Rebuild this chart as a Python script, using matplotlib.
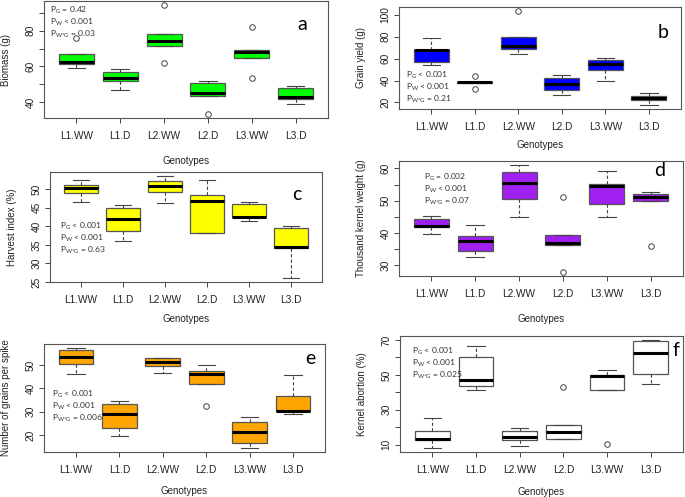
import matplotlib
matplotlib.use('Agg')
import matplotlib.pyplot as plt

plt.rcParams['font.family'] = ['Liberation Sans', 'DejaVu Sans']
plt.rcParams['mathtext.fontset'] = 'custom'
plt.rcParams['mathtext.rm'] = 'Lato'

genotypes = ['L1.WW', 'L1.D', 'L2.WW', 'L2.D', 'L3.WW', 'L3.D']

# a - biomass (g)
biomass_whislo = [58.9, 46.6, 71.5, 43.6, 64.9, 39.1]
biomass_q1 = [61.1, 51.7, 71.5, 43.6, 64.9, 41.7]
biomass_med = [62.6, 53.2, 74.5, 45.1, 67.9, 42.5]
biomass_q3 = [66.8, 56.8, 78.1, 50.4, 69.2, 48.1]
biomass_whishi = [66.8, 58.5, 78.1, 51.7, 69.2, 49.1]
biomass_out = [[75.8], [], [94.3, 62.1], [33.4], [81.9, 53.2], []]

# b - grain yield (g)
yield_whislo = [54.2, 37.6, 63.7, 26.8, 39.7, 17.5]
yield_q1 = [56.9, 37.6, 68.6, 31.4, 49.2, 22.2]
yield_med = [68.0, 38.2, 71.4, 36.9, 55.4, 24.3]
yield_q3 = [68.0, 38.6, 80.0, 42.5, 58.8, 25.8]
yield_whishi = [78.8, 38.6, 80.0, 45.2, 60.3, 28.6]
yield_out = [[], [43.7, 32.3], [103.5], [], [], []]

# c - harvest index (%)
hi_whislo = [46.4, 36.1, 46.2, 38.2, 41.4, 26.1]
hi_q1 = [49.0, 38.8, 49.1, 38.2, 42.4, 34.1]
hi_med = [50.4, 42.0, 50.8, 46.9, 42.4, 34.5]
hi_q3 = [51.1, 45.0, 52.2, 48.5, 46.1, 39.5]
hi_whishi = [52.5, 45.6, 53.5, 52.4, 46.6, 40.2]
hi_out = [[], [], [], [], [], []]

# d - thousand kernel weight (g)
tkw_whislo = [39.6, 32.7, 45.0, 36.3, 45.0, 50.0]
tkw_q1 = [41.9, 34.5, 50.5, 36.3, 48.9, 50.0]
tkw_med = [42.3, 37.5, 55.6, 36.8, 54.6, 51.2]
tkw_q3 = [44.4, 39.1, 59.0, 39.5, 55.2, 52.2]
tkw_whishi = [45.3, 42.5, 61.0, 39.5, 59.1, 52.8]
tkw_out = [[], [], [], [51.1, 28.0], [], [36.1]]

# e - number of grains per spike
gps_whislo = [46.0, 19.5, 46.8, 41.7, 14.5, 29.1]
gps_q1 = [50.6, 22.9, 49.6, 41.7, 16.6, 30.3]
gps_med = [53.6, 29.1, 51.2, 46.3, 21.4, 30.3]
gps_q3 = [56.5, 33.2, 53.0, 47.6, 25.7, 36.6]
gps_whishi = [57.3, 34.6, 53.0, 50.1, 27.7, 45.7]
gps_out = [[], [], [], [32.4], [], []]

# f - kernel abortion (%)
ka_whislo = [8.3, 41.6, 9.1, 13.1, 41.5, 44.7]
ka_q1 = [12.5, 43.4, 12.5, 13.1, 41.5, 50.3]
ka_med = [13.1, 46.8, 14.6, 17.3, 49.5, 62.7]
ka_q3 = [18.1, 60.0, 18.1, 21.1, 50.1, 69.4]
ka_whishi = [25.4, 66.6, 19.8, 21.1, 52.9, 69.8]
ka_out = [[], [], [], [42.8], [10.6], []]

W, H = 685, 497


def pstrings(pg, pw, pwg):
    return ['P$_{\\mathrm{G}}$ ' + pg,
            'P$_{\\mathrm{W}}$ ' + pw,
            'P$_{\\mathrm{W{*}G}}$ ' + pwg]


panels = [
    dict(letter='a', frame=(44, 1, 328, 118), ylabel='Biomass (g)', color='#00FF00',
         stats=(biomass_whislo, biomass_q1, biomass_med, biomass_q3, biomass_whishi, biomass_out),
         yticks=[40, 50, 60, 70, 80, 90], ylabels=['40', '', '60', '', '80', ''],
         ptext=pstrings('= 0.42', '< 0.001', '= 0.03'), pxy=(50, 10), letter_xy=(302, 24), xlab=42),
    dict(letter='b', frame=(399, 7, 681, 109), ylabel='Grain yield (g)', color='#0000FF',
         stats=(yield_whislo, yield_q1, yield_med, yield_q3, yield_whishi, yield_out),
         yticks=[20, 40, 60, 80, 100], ylabels=['20', '40', '60', '80', '100'],
         ptext=pstrings('< 0.001', '< 0.001', '= 0.21'), pxy=(406, 75), letter_xy=(663, 33), xlab=36),
    dict(letter='c', frame=(50, 172, 322, 282), ylabel='Harvest index (%)', color='#FFFF00',
         stats=(hi_whislo, hi_q1, hi_med, hi_q3, hi_whishi, hi_out),
         yticks=[25, 30, 35, 40, 45, 50], ylabels=['25', '30', '35', '40', '45', '50'],
         ptext=pstrings('< 0.001', '< 0.001', '= 0.63'), pxy=(60, 226), letter_xy=(297, 195), xlab=37),
    dict(letter='d', frame=(399, 161, 683, 276), ylabel='Thousand kernel weight (g)', color='#A020F0',
         stats=(tkw_whislo, tkw_q1, tkw_med, tkw_q3, tkw_whishi, tkw_out),
         yticks=[30, 35, 40, 45, 50, 55, 60], ylabels=['30', '', '40', '', '50', '', '60'],
         ptext=pstrings('= 0.002', '< 0.001', '= 0.07'), pxy=(424, 177), letter_xy=(660, 170), xlab=42),
    dict(letter='e', frame=(44, 344, 325, 452), ylabel='Number of grains per spike', color='#FFA500',
         stats=(gps_whislo, gps_q1, gps_med, gps_q3, gps_whishi, gps_out),
         yticks=[20, 30, 40, 50], ylabels=['20', '30', '40', '50'],
         ptext=pstrings('< 0.001', '< 0.001', '= 0.006'), pxy=(52, 394), letter_xy=(310, 359), xlab=39),
    dict(letter='f', frame=(400, 336, 683, 452), ylabel='Kernel abortion (%)', color='#FFFFFF',
         stats=(ka_whislo, ka_q1, ka_med, ka_q3, ka_whishi, ka_out),
         yticks=[10, 20, 30, 40, 50, 60, 70], ylabels=['10', '', '30', '', '50', '', '70'],
         ptext=pstrings('< 0.001', '< 0.001', '= 0.025'), pxy=(412, 351), letter_xy=(676, 351), xlab=40),
]

fig = plt.figure(figsize=(6.85, 4.97), dpi=100)

for p in panels:
    l, t, r, b = p['frame']
    ax = fig.add_axes([l / W, 1 - b / H, (r - l) / W, (b - t) / H])
    lo_, q1_, med_, q3_, hi_, out_ = p['stats']
    stats = []
    for i in range(len(genotypes)):
        stats.append(dict(whislo=lo_[i], q1=q1_[i], med=med_[i], q3=q3_[i], whishi=hi_[i], fliers=out_[i]))
    ax.bxp(stats, positions=range(1, 7), widths=0.8, capwidths=0.4, patch_artist=True,
           boxprops=dict(facecolor=p['color'], edgecolor='#555555', linewidth=0.9),
           medianprops=dict(color='black', linewidth=2.2, solid_capstyle='butt'),
           whiskerprops=dict(color='#444444', linestyle=(0, (3, 2)), linewidth=0.8),
           capprops=dict(color='#444444', linewidth=0.8),
           flierprops=dict(marker='o', markerfacecolor='none', markeredgecolor='#444444',
                           markersize=4, markeredgewidth=0.7))

    # R style ranges: 4% padding around the data
    vals = lo_ + hi_ + [v for o in out_ for v in o]
    span = max(vals) - min(vals)
    ax.set_ylim(min(vals) - 0.04 * span, max(vals) + 0.04 * span)
    ax.set_xlim(0.26, 6.74)

    ax.set_xticks(range(1, 7))
    ax.set_xticklabels(genotypes, fontsize=7.3, color='#222222')
    ax.set_yticks(p['yticks'])
    ax.set_yticklabels(p['ylabels'], fontsize=7.3, color='#222222', rotation=90, va='center')
    ax.tick_params(axis='both', direction='out', length=3.5, width=0.7, color='#444444')
    ax.tick_params(axis='x', pad=6)
    ax.tick_params(axis='y', pad=2.5)
    for s in ax.spines.values():
        s.set_color('#555555')
        s.set_linewidth(0.8)

    ax.set_xlabel('Genotypes', fontsize=7, color='#222222')
    ax.xaxis.set_label_coords(0.5, -(p['xlab'] - 4.5) / (b - t))
    ax.set_ylabel(p['ylabel'], fontsize=7, color='#222222')
    ax.yaxis.set_label_coords(-33.0 / (r - l), 0.5)

    px, py = p['pxy']
    for k, s in enumerate(p['ptext']):
        fig.text(px / W, 1 - (py + 12 * k) / H, s, fontsize=6.1, family='Lato',
                 color='#333333', va='center', ha='left')
    lx, ly = p['letter_xy']
    fig.text(lx / W, 1 - ly / H, p['letter'], fontsize=14, family='Lato', color='black',
             ha='center', va='center')

fig.savefig('out.png', dpi=100)
